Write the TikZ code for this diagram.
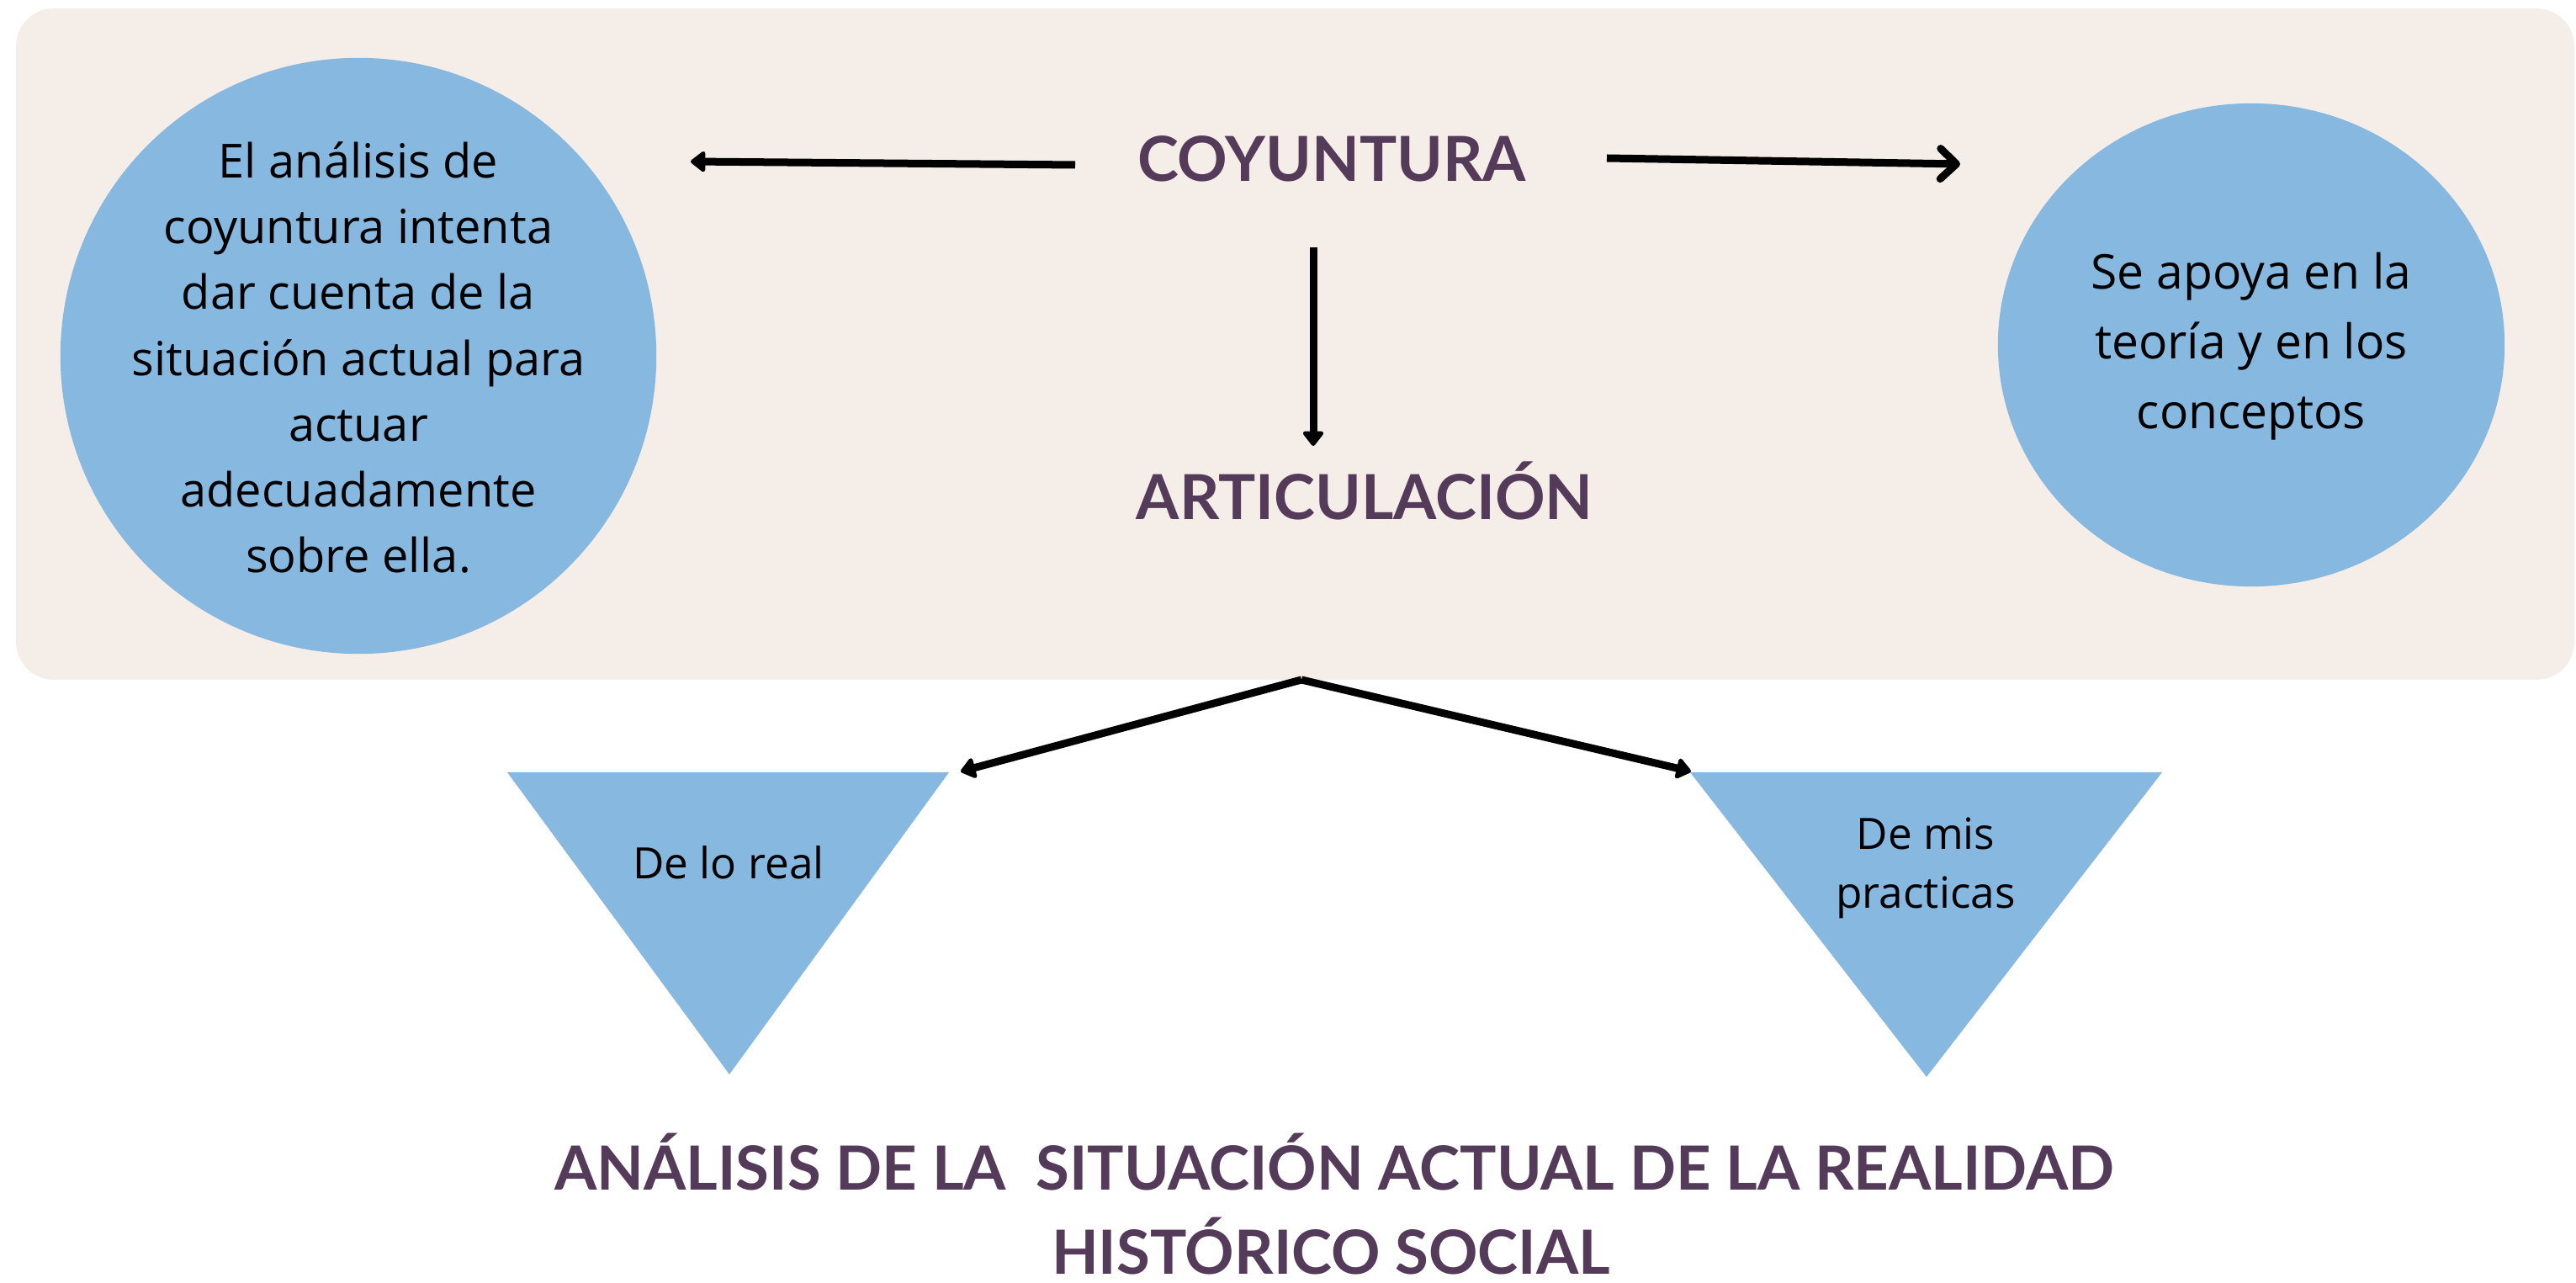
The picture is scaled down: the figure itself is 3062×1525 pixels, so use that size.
\documentclass[tikz,border=0pt]{standalone}
\usepackage{fontspec}
\setmainfont{Open Sans}
\newfontfamily\tfont{Lato}
\usetikzlibrary{arrows.meta,shapes.geometric}
\definecolor{bgbeige}{HTML}{F5EDE8}
\definecolor{softblue}{HTML}{86B8E0}
\definecolor{plum}{HTML}{553B5A}
\tikzset{
  conn/.style={line width=0.09cm, black},
  tri/.style={-{Triangle[length=0.19cm,width=0.28cm,round]}},
  barb/.style={-{Straight Barb[length=0.19cm,width=0.36cm,round]}},
  title/.style={text=plum, font=\tfont\bfseries\fontsize{21pt}{28pt}\selectfont, inner sep=0pt, anchor=base},
  subtitle/.style={title, font=\tfont\bfseries\fontsize{20.6pt}{28pt}\selectfont},
  bodytxt/.style={text=black, align=center, inner sep=0pt},
  blob/.style={fill=softblue, draw=none},
}
\begin{document}
\begin{tikzpicture}[x=0.01cm,y=-0.01cm]
\useasboundingbox (0,0) rectangle (3062,1525);
\fill[white] (0,0) rectangle (3062,1525);
% background panel
\fill[bgbeige, rounded corners=0.45cm] (19,10) rectangle (3060,808);

% left circle
\node[blob, circle, minimum size=7.08cm, inner sep=0pt] (circL) at (426,423) {};
\node[bodytxt, font=\fontsize{15.9pt}{22.2pt}\selectfont] (txtL) at (426,425)
  {El análisis de\\coyuntura intenta\\dar cuenta de la\\situación actual para\\actuar\\adecuadamente\\sobre ella.};

% right ellipse
\node[blob, ellipse, minimum width=6.02cm, minimum height=5.74cm, inner sep=0pt] (circR) at (2676,410) {};
\node[bodytxt, font=\fontsize{16.2pt}{23.6pt}\selectfont] (txtR) at (2676,412)
  {Se apoya en la\\teoría y en los\\conceptos};

% titles
\node[title] (coy) at (1583,216) {COYUNTURA};
\node[title] (art) at (1622,618) {ARTICULACIÓN};
\node[subtitle] (sum1) at (1586,1414) {ANÁLISIS DE LA~~SITUACIÓN ACTUAL DE LA REALIDAD};
\node[subtitle] (sum2) at (1582,1514) {HISTÓRICO SOCIAL};

% triangles
\fill[softblue] (603,918) -- (1128,918) -- (867,1277) -- cycle;
\fill[softblue] (2009,918) -- (2570,918) -- (2290,1280) -- cycle;
\node[bodytxt, anchor=base, font=\fontsize{14.6pt}{19.9pt}\selectfont] (triL) at (866,1045) {De lo real};
\node[bodytxt, anchor=base, font=\fontsize{14.6pt}{19.9pt}\selectfont] (triR1) at (2289,1010) {De mis};
\node[bodytxt, anchor=base, font=\fontsize{14.6pt}{19.9pt}\selectfont] (triR2) at (2289,1080) {practicas};

% connector end points
\coordinate (lA) at (1278,196);
\coordinate (lB) at (821,192);
\coordinate (rA) at (1910,188);
\coordinate (rB) at (2330,195);
\coordinate (vA) at (1561,294);
\coordinate (vB) at (1561,530);
\coordinate (apex) at (1547,808);
\coordinate (dL) at (1142,917);
\coordinate (dR) at (2010,917);

\draw[conn, tri] (lA) -- (lB);
\draw[conn, barb] (rA) -- (rB);
\draw[conn, tri] (vA) -- (vB);
\draw[conn, tri] (apex) -- (dL);
\draw[conn, tri] (apex) -- (dR);
\end{tikzpicture}
\end{document}
